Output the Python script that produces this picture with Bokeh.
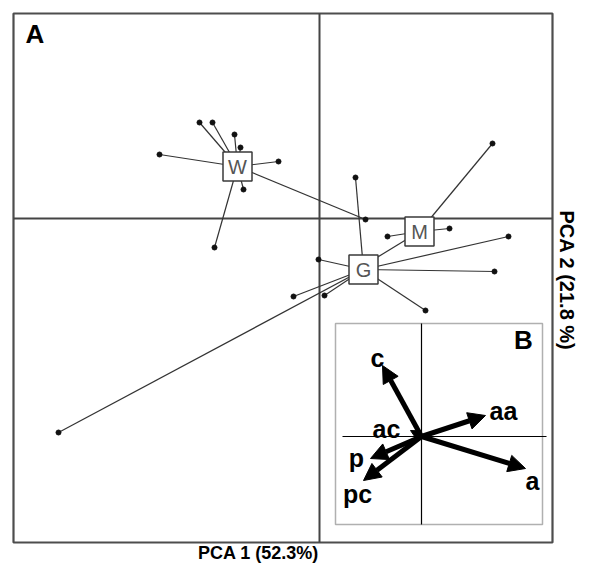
import numpy as np
from bokeh.plotting import figure
from bokeh.models import Range1d, ColumnDataSource, Arrow, NormalHead
from bokeh.core.properties import value
from bokeh.embed import file_html
from bokeh.resources import INLINE

# ---------------- data ----------------
# group centroids (PCA 1, PCA 2)
groups = ["W", "M", "G"]
centroid_x = [-0.82, 1.00, 0.44]
centroid_y = [0.52, -0.13, -0.51]

# individual scores per group
w_x = [-1.20, -1.07, -0.85, -0.79, -1.60, -0.41, -0.76, -1.05, 0.46]
w_y = [0.96, 0.96, 0.84, 0.71, 0.64, 0.57, 0.29, -0.29, -0.01]
m_x = [1.73, 0.68, 1.30, 0.46]
m_y = [0.75, -0.18, -0.10, -0.46]
g_x = [0.36, -0.01, 1.89, 1.75, 1.06, -0.26, 0.05, -2.61]
g_y = [0.41, -0.41, -0.18, -0.53, -0.92, -0.78, -0.77, -2.14]

# inset B: variable loadings (drawn as arrows)
var_names = ["c", "aa", "a", "p", "pc", "ac"]
load_x = [-0.39, 0.64, 1.04, -0.51, -0.58, -0.11]
load_y = [0.71, 0.21, -0.32, -0.22, -0.44, 0.06]

x_title = "PCA 1 (52.3%)"
y_title = "PCA 2 (21.8 %)"

# ---------------- layout ----------------
FONT = value("Liberation Sans")
frame_l, frame_r, frame_b, frame_t = -3.06, 2.33, -3.24, 2.05
inset_l, inset_r, inset_b, inset_t = 0.16, 2.23, -3.06, -1.05
ox, oy = 1.02, -2.18           # origin of inset B
lab_dx = [-0.05, 0.18, 0.07, -0.14, -0.06, -0.24]
lab_dy = [0.08, 0.05, -0.12, 0.01, -0.13, 0.02]

p = figure(width=576, height=563,
           x_range=Range1d(-3.19, 2.57), y_range=Range1d(-3.45, 2.18),
           output_backend="svg", toolbar_location=None,
           x_axis_location=None, y_axis_location=None,
           min_border=0, outline_line_color=None)
p.xgrid.visible = False
p.ygrid.visible = False
p.background_fill_color = "white"
p.border_fill_color = "white"

# outer frame and zero lines
p.quad(left=[frame_l], right=[frame_r], bottom=[frame_b], top=[frame_t],
       fill_color="white", line_color="#4d4d4d", line_width=2.2)
p.segment(x0=[0, frame_l], y0=[frame_b, 0], x1=[0, frame_r], y1=[frame_t, 0],
          line_color="#444444", line_width=2)

# star lines from centroids
sx0, sy0, sx1, sy1 = [], [], [], []
for gi, (xs, ys) in enumerate([(w_x, w_y), (m_x, m_y), (g_x, g_y)]):
    for xx, yy in zip(xs, ys):
        sx0.append(centroid_x[gi]); sy0.append(centroid_y[gi])
        sx1.append(xx); sy1.append(yy)
p.segment(x0=sx0, y0=sy0, x1=sx1, y1=sy1, line_color="#333333", line_width=1.2)
p.scatter(x=sx1, y=sy1, size=5, fill_color="#111111", line_color="#111111")

# centroid boxes
p.scatter(x=centroid_x, y=centroid_y, marker="square", size=29,
          fill_color="white", line_color="#3a3a3a", line_width=1.5)
p.text(x=centroid_x, y=centroid_y, text=groups, text_align="center",
       text_baseline="middle", text_font=FONT, text_font_size="20px",
       text_color="#555555")

# inset B
p.quad(left=[inset_l], right=[inset_r], bottom=[inset_b], top=[inset_t],
       fill_color="white", line_color="#b0b0b0", line_width=1.5)
p.segment(x0=[ox, 0.23], y0=[inset_b, oy], x1=[ox, 2.27], y1=[inset_t, oy],
          line_color="#000000", line_width=1.2)

ex = [ox + v for v in load_x]
ey = [oy + v for v in load_y]
big = ColumnDataSource(dict(x_start=[ox] * 5, y_start=[oy] * 5,
                            x_end=ex[:5], y_end=ey[:5]))
p.add_layout(Arrow(source=big, x_start="x_start", y_start="y_start",
                   x_end="x_end", y_end="y_end", line_width=5,
                   line_color="black",
                   end=NormalHead(size=17, fill_color="black", line_color="black")))
small = ColumnDataSource(dict(x_start=[ox], y_start=[oy], x_end=ex[5:], y_end=ey[5:]))
p.add_layout(Arrow(source=small, x_start="x_start", y_start="y_start",
                   x_end="x_end", y_end="y_end", line_width=3,
                   line_color="black",
                   end=NormalHead(size=9, fill_color="black", line_color="black")))

p.text(x=[e + d for e, d in zip(ex, lab_dx)], y=[e + d for e, d in zip(ey, lab_dy)],
       text=var_names, text_align="center", text_baseline="middle",
       text_font=FONT, text_font_style="bold", text_font_size="25px",
       text_color="black")

# panel letters
p.text(x=[-2.94], y=[1.85], text=["A"], text_align="left", text_baseline="middle",
       text_font=FONT, text_font_style="bold", text_font_size="26px", text_color="black")
p.text(x=[2.04], y=[-1.21], text=["B"], text_align="center", text_baseline="middle",
       text_font=FONT, text_font_style="bold", text_font_size="26px", text_color="black")

# axis titles
p.text(x=[-0.61], y=[-3.44], text=[x_title], text_align="center", text_baseline="bottom",
       text_font=FONT, text_font_style="bold", text_font_size="18px", text_color="black")
p.text(x=[2.47], y=[-0.62], text=[y_title], angle=-np.pi / 2, text_align="center",
       text_baseline="middle", text_font=FONT, text_font_style="bold",
       text_font_size="20px", text_color="black")

open("out.html", "w").write(file_html(p, INLINE))
